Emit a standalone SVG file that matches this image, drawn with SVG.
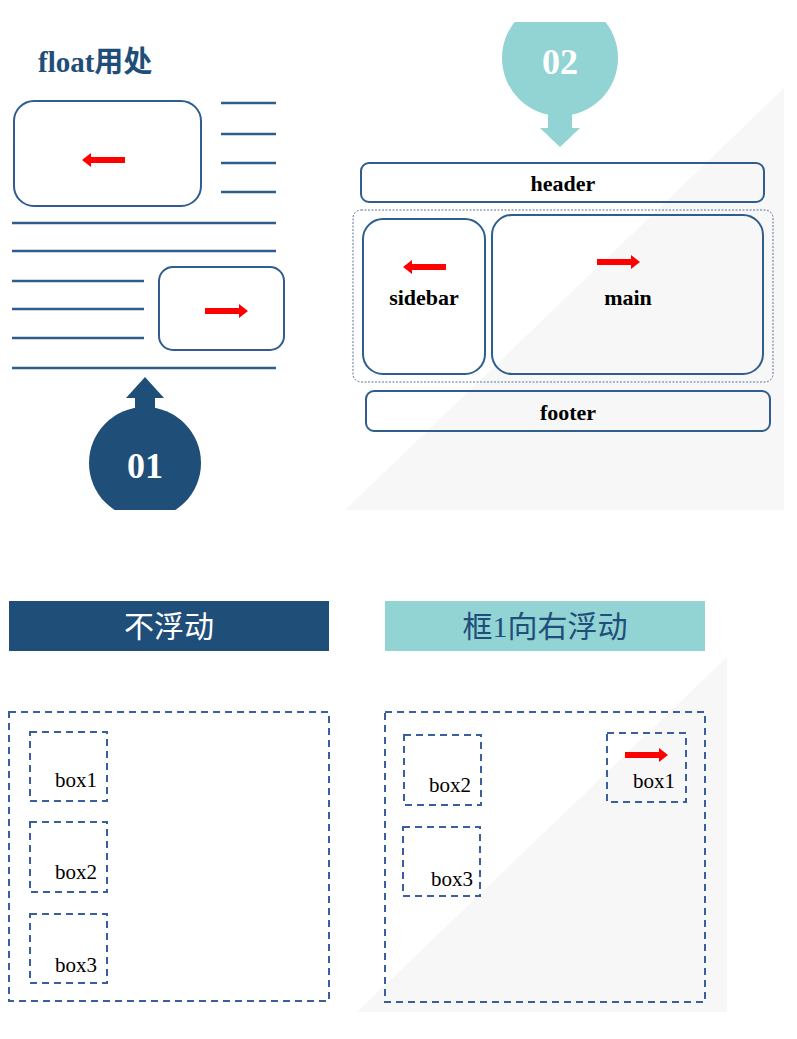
<svg xmlns="http://www.w3.org/2000/svg" width="797" height="1039" viewBox="0 0 797 1039">
<style>
.ln{stroke:#2f5d8c;stroke-width:2.5}
.rb{fill:none;stroke:#2f5d8c;stroke-width:2}
.ds{fill:none;stroke:#3a5fa0;stroke-width:2;stroke-dasharray:7 5}
.tb{font-family:"Liberation Serif",serif;font-weight:bold;font-size:22px;fill:#000;text-anchor:middle}
.tx{font-family:"Liberation Serif",serif;font-size:21px;fill:#000}
.ra{fill:#ff0000}
</style>
<defs>
<path id="arR" d="M0,-3 H34 V-7 L43,0 L34,7 V3 H0 Z"/>
<path id="arL" d="M43,-3 H9 V-7 L0,0 L9,7 V3 H43 Z"/>
</defs>
<rect width="797" height="1039" fill="#fff"/>
<polygon points="345,510 784,88 784,510" fill="#f7f7f7"/>
<polygon points="357,1012 727,657 727,1012" fill="#f7f7f7"/>

<g id="title"><text x="38" y="72" font-family="'Liberation Serif','Noto Sans CJK SC',serif" font-weight="bold" font-size="29" fill="#1f4e79">float用处</text></g>

<g id="float-demo">
<rect class="rb" x="14" y="101" width="187" height="105" rx="20"/>
<use href="#arL" x="82" y="160" class="ra"/>
<line class="ln" x1="221" y1="103" x2="276" y2="103"/>
<line class="ln" x1="221" y1="134" x2="276" y2="134"/>
<line class="ln" x1="221" y1="163" x2="276" y2="163"/>
<line class="ln" x1="221" y1="192" x2="276" y2="192"/>
<line class="ln" x1="12" y1="223" x2="276" y2="223"/>
<line class="ln" x1="12" y1="251" x2="276" y2="251"/>
<line class="ln" x1="12" y1="281" x2="144" y2="281"/>
<line class="ln" x1="12" y1="309" x2="144" y2="309"/>
<line class="ln" x1="12" y1="338" x2="144" y2="338"/>
<line class="ln" x1="12" y1="368" x2="276" y2="368"/>
<rect class="rb" x="159" y="267" width="125" height="83" rx="14"/>
<use href="#arR" x="205" y="311" class="ra"/>
</g>

<g id="badge01">
<path d="M135,398 H126 L145,377 L164,398 H155 V412 H135 Z" fill="#1f4e79"/>
<circle cx="145" cy="463" r="56" fill="#1f4e79"/>
<rect x="80" y="510" width="140" height="60" fill="#fff"/>
<text x="145" y="478" font-family="'Liberation Serif',serif" font-weight="bold" font-size="36" fill="#fff" text-anchor="middle">01</text>
</g>

<g id="badge02">
<circle cx="560" cy="58" r="58" fill="#92d3d4"/>
<rect x="490" y="0" width="140" height="22" fill="#fff"/>
<path d="M548,108 H572 V128 H580 L560,147 L540,128 H548 Z" fill="#92d3d4"/>
<text x="560" y="74" font-family="'Liberation Serif',serif" font-weight="bold" font-size="36" fill="#fff" text-anchor="middle">02</text>
</g>

<g id="header"><rect class="rb" x="361" y="163" width="403" height="39" rx="8" fill="#fff"/><text class="tb" x="563" y="191">header</text></g>
<g id="wrapper"><rect x="353" y="210" width="420" height="172" rx="8" fill="none" stroke="#5a7599" stroke-width="1" stroke-dasharray="2 1.5"/></g>
<g id="sidebar"><rect class="rb" x="363" y="219" width="122" height="155" rx="20" fill="#fff"/><use href="#arL" x="403" y="267" class="ra"/><text class="tb" x="424" y="305">sidebar</text></g>
<g id="main"><rect class="rb" x="492" y="215" width="271" height="159" rx="20" fill="none"/><use href="#arR" x="597" y="262" class="ra"/><text class="tb" x="628" y="305">main</text></g>
<g id="footer"><rect class="rb" x="366" y="391" width="404" height="40" rx="8" fill="#fff"/><text class="tb" x="568" y="420">footer</text></g>

<g id="bar-left"><rect x="9" y="601" width="320" height="50" fill="#1f4e79"/><text x="169" y="637" font-family="'Noto Sans CJK SC',sans-serif" font-size="30" fill="#fff" text-anchor="middle">不浮动</text></g>
<g id="bar-right"><rect x="385" y="601" width="320" height="50" fill="#92d3d4"/><text x="545" y="637" font-family="'Liberation Serif','Noto Sans CJK SC',sans-serif" font-size="30" fill="#1f4e79" text-anchor="middle">框1向右浮动</text></g>

<g id="nofloat">
<rect class="ds" x="9" y="712" width="320" height="289"/>
<rect class="ds" x="30" y="732" width="77" height="69"/><text class="tx" x="55" y="787">box1</text>
<rect class="ds" x="30" y="822" width="77" height="70"/><text class="tx" x="55" y="879">box2</text>
<rect class="ds" x="30" y="914" width="77" height="69"/><text class="tx" x="55" y="972">box3</text>
</g>

<g id="float-right">
<rect class="ds" x="385" y="712" width="320" height="290"/>
<rect class="ds" x="404" y="735" width="77" height="70"/><text class="tx" x="429" y="792">box2</text>
<rect class="ds" x="403" y="827" width="77" height="69"/><text class="tx" x="431" y="886">box3</text>
<rect class="ds" x="607" y="733" width="79" height="69"/><text class="tx" x="633" y="788">box1</text>
<use href="#arR" x="625" y="755" class="ra"/>
</g>
<g id="connectors"/>
</svg>
